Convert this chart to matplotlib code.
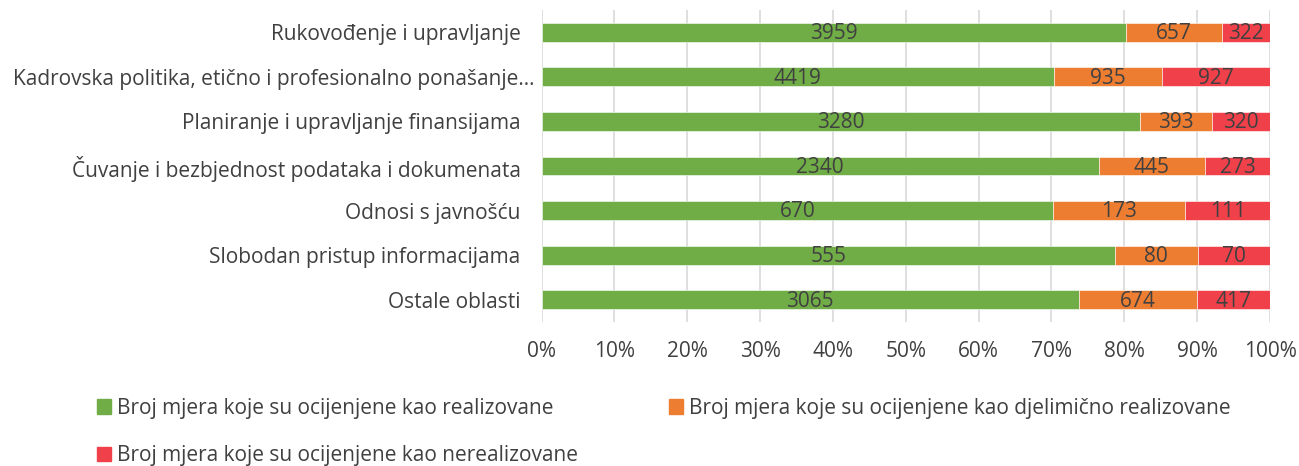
import matplotlib.pyplot as plt
import matplotlib.patches as mpatches
import matplotlib.transforms as mtransforms
import numpy as np

plt.rcParams['font.family'] = ['Open Sans', 'DejaVu Sans']

kategorije = ["Rukovođenje i upravljanje",
              "Kadrovska politika, etično i profesionalno ponašanje…",
              "Planiranje i upravljanje finansijama",
              "Čuvanje i bezbjednost podataka i dokumenata",
              "Odnosi s javnošću",
              "Slobodan pristup informacijama",
              "Ostale oblasti"]
realizovane = [3959, 4419, 3280, 2340, 670, 555, 3065]
djelimicno = [657, 935, 393, 445, 173, 80, 674]
nerealizovane = [322, 927, 320, 273, 111, 70, 417]
nazivi = ["Broj mjera koje su ocijenjene kao realizovane",
          "Broj mjera koje su ocijenjene kao djelimično realizovane",
          "Broj mjera koje su ocijenjene kao nerealizovane"]
boje = ["#70AD47", "#ED7D31", "#F0414A"]
tekst = "#404040"
fs = 15

serije = np.array([realizovane, djelimicno, nerealizovane], dtype=float)
ukupno = serije.sum(axis=0)
udio = serije / ukupno

fig = plt.figure(figsize=(12.99, 4.66), dpi=100)
ax = fig.add_axes([541.5/1299, 1-322/466, (1270-541.5)/1299, 312/466])

y = np.arange(len(kategorije))
lijevo = np.zeros(len(kategorije))
for i in range(3):
    ax.barh(y, udio[i], left=lijevo, height=0.42, color=boje[i],
            edgecolor="white", linewidth=0.4, zorder=3)
    for j in range(len(kategorije)):
        ax.text(lijevo[j] + udio[i][j]/2, y[j] + 0.03, str(int(serije[i][j])),
                ha="center", va="center", fontsize=fs, color=tekst, zorder=4)
    lijevo += udio[i]

ax.set_ylim(len(kategorije)-0.5, -0.5)
ax.set_xlim(0, 1)
ax.set_yticks(y)
ax.set_yticklabels(kategorije, fontsize=fs, color=tekst)
ax.set_xticks(np.linspace(0, 1, 11))
ax.set_xticklabels([f"{k}%" for k in range(0, 101, 10)], fontsize=fs, color=tekst)
ax.tick_params(axis="y", length=0, pad=15)
ax.tick_params(axis="x", length=0, pad=14)
ax.grid(axis="x", color="#D9D9D9", linewidth=1.2, zorder=0)
for s in ax.spines.values():
    s.set_visible(False)

# skraćeni naziv (sa …) u originalu viri malo desno
lab = ax.get_yticklabels()[1]
lab.set_transform(lab.get_transform() +
                  mtransforms.ScaledTranslation(14/100, 0, fig.dpi_scale_trans))

# redoslijed: matplotlib puni legendu po kolonama
poredak = [0, 2, 1]
rucke = [mpatches.Patch(color=boje[i], label=nazivi[i]) for i in poredak]
fig.legend(handles=rucke, loc="upper left", bbox_to_anchor=(78/1299, 1-379/466),
           ncol=2, frameon=False, fontsize=fs, labelcolor=tekst,
           handlelength=0.67, handleheight=0.67, handletextpad=0.3,
           columnspacing=4.37, labelspacing=1.26)

fig.savefig("out.png", dpi=100)
